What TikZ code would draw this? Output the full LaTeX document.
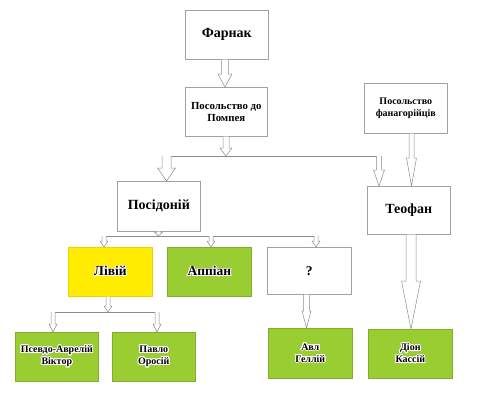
\documentclass[tikz,border=0pt]{standalone}
\usepackage{fontspec}
\setmainfont{Liberation Serif}
\usepackage{contour}
\contourlength{0.9pt}
\contournumber{24}
\usetikzlibrary{calc}
\definecolor{lgreen}{RGB}{154,205,50}
\definecolor{lyellow}{RGB}{255,236,0}
\definecolor{edgegray}{RGB}{160,160,160}
\definecolor{arrgray}{RGB}{140,140,140}
\newcommand{\barrow}[5]{\draw[barr] let \p1=#1, \p2=#2 in
  (\x1-#3pt,\y1) -- (\x1-#3pt,\y2+#5pt) -- (\x1-#4pt,\y2+#5pt) -- (\x1,\y2)
  -- (\x1+#4pt,\y2+#5pt) -- (\x1+#3pt,\y2+#5pt) -- (\x1+#3pt,\y1);}
\newcommand{\hl}[1]{\contour{white}{#1}}
\begin{document}
\begin{tikzpicture}[x=1pt,y=-1pt,
  basebox/.style={draw=edgegray, line width=0.6pt, inner sep=0pt, anchor=north west,
    align=center, font=\bfseries},
  wbox/.style={basebox, fill=white},
  gbox/.style={basebox, fill=lgreen, draw=lgreen!85!black},
  ybox/.style={basebox, fill=lyellow, draw=lyellow!90!black},
  big/.style={font=\fontsize{14}{16}\selectfont\bfseries},
  mid/.style={font=\fontsize{13.5}{15}\selectfont\bfseries},
  small/.style={font=\fontsize{10}{12}\selectfont\bfseries},
  smallb/.style={font=\fontsize{10.8}{12.5}\selectfont\bfseries},
  barr/.style={draw=arrgray, line width=0.5pt, fill=white, line join=miter},
  bus/.style={draw=arrgray, line width=0.5pt}]
\useasboundingbox (0,0) rectangle (486,400);

% nodes
\node[wbox, big, minimum width=83, minimum height=49] (farnak) at (185,10) {Фарнак};
\node[wbox, smallb, minimum width=82, minimum height=49] (pompey) at (185,87) {Посольство до\\Помпея};
\node[wbox, small, minimum width=83, minimum height=50] (fan) at (364,83) {Посольство\\фанагорійців};
\node[wbox, big, minimum width=83, minimum height=50] (posid) at (117,181) {Посідоній};
\node[wbox, big, minimum width=83, minimum height=48] (teofan) at (367,186) {Теофан};
\node[ybox, mid, minimum width=84, minimum height=49] (livy) at (68,247) {\hl{Лівій}};
\node[gbox, mid, minimum width=84, minimum height=49] (appian) at (167,247) {\hl{Аппіан}};
\node[wbox, mid, minimum width=84, minimum height=47] (q) at (267,247) {?};
\node[gbox, small, minimum width=83, minimum height=49] (pseudo) at (15,332) {\hl{Псевдо-Аврелій}\\\hl{Віктор}};
\node[gbox, small, minimum width=83, minimum height=49] (orosius) at (112,332) {\hl{Павло}\\\hl{Оросій}};
\node[gbox, small, minimum width=84, minimum height=50] (gellius) at (268,328) {\hl{Авл}\\\hl{Геллій}};
\node[gbox, small, minimum width=84, minimum height=49] (dio) at (368,329) {\hl{Діон}\\\hl{Кассій}};

% bus coordinates
\coordinate (b1) at (226,156);
\coordinate (b1L) at (166.5,156);
\coordinate (b1R) at (379,156);
\coordinate (b2) at (158.5,236);
\coordinate (b2a) at (104,236);
\coordinate (b2b) at (211,236);
\coordinate (b2c) at (316,236);
\coordinate (b3) at (108,312);
\coordinate (b3a) at (53,312);
\coordinate (b3b) at (157,312);

% bus lines
\draw[bus] (b1L) -- (b1R);
\draw[bus] (b2a) -- (b2c);
\draw[bus] (b3a) -- (b3b);

% arrows
\barrow{(225,0 |- farnak.south)}{(225,0 |- pompey.north)}{3.3}{7}{13}
\barrow{(b1 |- pompey.south)}{(b1)}{3}{6}{8}
\barrow{(b1L)}{(b1L |- posid.north)}{4.5}{9}{13}
\barrow{(b1R)}{(b1R |- teofan.north)}{2.7}{5.5}{16}
\barrow{(411.5,0 |- fan.south)}{(411.5,0 |- teofan.north)}{2.5}{5}{28}
\barrow{(b2 |- posid.south)}{(b2)}{2}{4}{4}
\barrow{(b2a)}{(b2a |- livy.north)}{2}{4}{6}
\barrow{(b2b)}{(b2b |- appian.north)}{2}{4}{6}
\barrow{(b2c)}{(b2c |- q.north)}{2}{4}{6}
\barrow{(b3 |- livy.south)}{(b3)}{2}{4}{6}
\barrow{(b3a)}{(b3a |- pseudo.north)}{2}{4}{8}
\barrow{(b3b)}{(b3b |- orosius.north)}{2}{4}{8}
\barrow{(306.5,0 |- q.south)}{(306.5,0 |- gellius.north)}{3}{4.5}{17}
\barrow{(411,0 |- teofan.south)}{(411,0 |- dio.north)}{5}{9.5}{48}
\end{tikzpicture}
\end{document}
